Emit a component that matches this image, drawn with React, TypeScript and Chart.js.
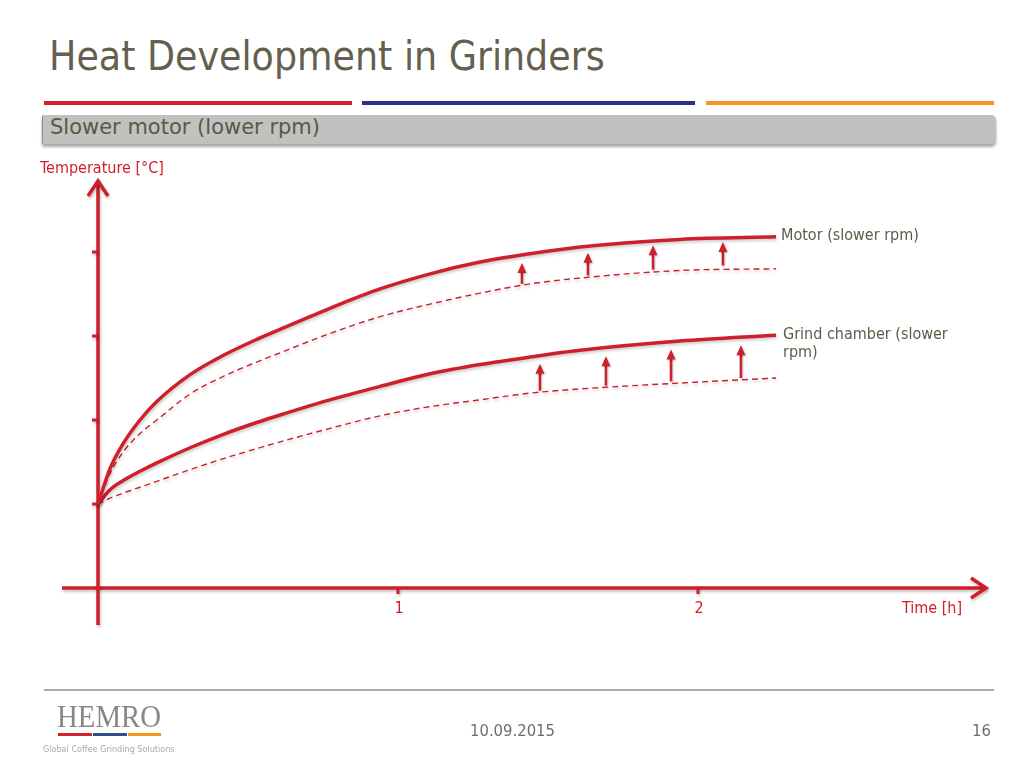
import { useEffect, useRef } from 'react';
import Chart from 'chart.js/auto';

// time in hours, shared by all four curves
const times = [0, 0.04, 0.084, 0.14, 0.196, 0.307, 0.418, 0.529, 0.607, 0.773, 0.94, 1.107, 1.273, 1.44, 1.607, 1.94, 2.26];
const motorSlow = [1.0, 1.42, 1.72, 2.0, 2.22, 2.54, 2.77, 2.96, 3.08, 3.33, 3.56, 3.74, 3.88, 3.98, 4.06, 4.15, 4.18];
const motorFast = [1.0, 1.36, 1.62, 1.84, 2.0, 2.31, 2.52, 2.69, 2.8, 3.03, 3.23, 3.38, 3.51, 3.62, 3.69, 3.78, 3.8];
const chamberSlow = [1.0, 1.17, 1.28, 1.39, 1.49, 1.67, 1.83, 1.97, 2.06, 2.24, 2.4, 2.55, 2.66, 2.75, 2.83, 2.94, 3.01];
const chamberFast = [1.0, 1.07, 1.13, 1.2, 1.27, 1.41, 1.54, 1.66, 1.74, 1.9, 2.05, 2.16, 2.24, 2.32, 2.37, 2.44, 2.5];

// small arrows showing the rise from dashed to solid curve
const motorArrowTimes = [1.413, 1.633, 1.85, 2.083];
const motorArrowFrom = [3.62, 3.72, 3.79, 3.84];
const motorArrowTo = [3.87, 3.99, 4.08, 4.12];
const chamberArrowTimes = [1.473, 1.693, 1.91, 2.143];
const chamberArrowFrom = [2.35, 2.41, 2.46, 2.5];
const chamberArrowTo = [2.67, 2.76, 2.84, 2.89];

const xTicks = [1, 2];
const yTicks = [1, 2, 3, 4];
const xRange = [-0.12, 2.96];
const yRange = [-0.44, 4.845];

const RED = '#cf1f2a';
const TEXT = '#5e5a4a';
const COND = '"DejaVu Sans Condensed", "Liberation Sans Narrow", "DejaVu Sans", sans-serif';
const SANS = '"DejaVu Sans", sans-serif';

const toPoints = (vals: number[]) => vals.map((v, i) => ({ x: times[i], y: v }));

const slidePlugin = {
  id: 'slideAxes',
  beforeDatasetsDraw(chart: any) {
    const { ctx, scales } = chart;
    const x = scales.x;
    const y = scales.y;
    const x0 = x.getPixelForValue(0);
    const y0 = y.getPixelForValue(0);
    ctx.save();
    ctx.shadowColor = 'rgba(0,0,0,0.25)';
    ctx.shadowBlur = 3;
    ctx.shadowOffsetX = 1;
    ctx.shadowOffsetY = 2;
    ctx.strokeStyle = RED;
    ctx.lineWidth = 3.5;
    ctx.lineJoin = 'miter';
    // x axis
    ctx.beginPath();
    ctx.moveTo(x.left, y0);
    ctx.lineTo(x.right, y0);
    ctx.stroke();
    ctx.beginPath();
    ctx.moveTo(x.right - 15, y0 - 10);
    ctx.lineTo(x.right, y0);
    ctx.lineTo(x.right - 15, y0 + 10);
    ctx.stroke();
    // y axis
    ctx.beginPath();
    ctx.moveTo(x0, y.bottom);
    ctx.lineTo(x0, y.top);
    ctx.stroke();
    ctx.beginPath();
    ctx.moveTo(x0 - 10, y.top + 15);
    ctx.lineTo(x0, y.top);
    ctx.lineTo(x0 + 10, y.top + 15);
    ctx.stroke();
    // ticks
    ctx.lineWidth = 3;
    yTicks.forEach((t) => {
      const py = y.getPixelForValue(t);
      ctx.beginPath();
      ctx.moveTo(x0 - 6, py);
      ctx.lineTo(x0, py);
      ctx.stroke();
    });
    xTicks.forEach((t) => {
      const px = x.getPixelForValue(t);
      ctx.beginPath();
      ctx.moveTo(px, y0);
      ctx.lineTo(px, y0 + 6);
      ctx.stroke();
    });
    ctx.shadowColor = 'transparent';
    ctx.fillStyle = RED;
    ctx.font = `16px ${COND}`;
    ctx.textBaseline = 'alphabetic';
    ctx.textAlign = 'center';
    xTicks.forEach((t) => ctx.fillText(String(t), x.getPixelForValue(t) + 1, y0 + 25));
    ctx.textAlign = 'right';
    ctx.fillText('Time [h]', x.right - 24, y0 + 25);
    ctx.textAlign = 'left';
    ctx.fillText('Temperature [°C]', x0 - 58, y.top - 8);
    ctx.restore();
  },
  // soft shadow under the curves, as on the slide
  beforeDatasetDraw(chart: any) {
    const { ctx } = chart;
    ctx.save();
    ctx.shadowColor = 'rgba(0,0,0,0.2)';
    ctx.shadowBlur = 3;
    ctx.shadowOffsetX = 1;
    ctx.shadowOffsetY = 2;
  },
  afterDatasetDraw(chart: any) {
    chart.ctx.restore();
  },
  afterDatasetsDraw(chart: any) {
    const { ctx, scales } = chart;
    const x = scales.x;
    const y = scales.y;
    const drawArrows = (ts: number[], from: number[], to: number[]) => {
      ts.forEach((t, i) => {
        const px = x.getPixelForValue(t);
        const pb = y.getPixelForValue(from[i]);
        const pt = y.getPixelForValue(to[i]);
        ctx.beginPath();
        ctx.moveTo(px, pb);
        ctx.lineTo(px, pt + 8);
        ctx.stroke();
        ctx.beginPath();
        ctx.moveTo(px, pt);
        ctx.lineTo(px - 4.5, pt + 10);
        ctx.lineTo(px + 4.5, pt + 10);
        ctx.closePath();
        ctx.fill();
      });
    };
    ctx.save();
    ctx.shadowColor = 'rgba(0,0,0,0.25)';
    ctx.shadowBlur = 2;
    ctx.shadowOffsetX = 1;
    ctx.shadowOffsetY = 1;
    ctx.strokeStyle = RED;
    ctx.fillStyle = RED;
    ctx.lineWidth = 2.5;
    drawArrows(motorArrowTimes, motorArrowFrom, motorArrowTo);
    drawArrows(chamberArrowTimes, chamberArrowFrom, chamberArrowTo);
    ctx.shadowColor = 'transparent';
    // curve labels at the end of the solid lines
    const last = times.length - 1;
    const lx = x.getPixelForValue(times[last]) + 5;
    ctx.fillStyle = TEXT;
    ctx.font = `16px ${COND}`;
    ctx.textAlign = 'left';
    ctx.textBaseline = 'alphabetic';
    ctx.fillText('Motor (slower rpm)', lx, y.getPixelForValue(motorSlow[last]) + 3);
    const cy = y.getPixelForValue(chamberSlow[last]);
    ctx.fillText('Grind chamber (slower', lx + 2, cy + 4);
    ctx.fillText('rpm)', lx + 2, cy + 22);
    ctx.restore();
  },
};

function HeatChart() {
  const canvasRef = useRef<HTMLCanvasElement>(null);

  useEffect(() => {
    if (!canvasRef.current) return;
    const solid = { borderColor: RED, borderWidth: 3.5, pointRadius: 0, cubicInterpolationMode: 'monotone' as const };
    const dashed = { borderColor: RED, borderWidth: 1.4, borderDash: [6, 4], pointRadius: 0, cubicInterpolationMode: 'monotone' as const };
    const chart = new Chart(canvasRef.current, {
      type: 'line',
      data: {
        datasets: [
          { label: 'Motor (slower rpm)', data: toPoints(motorSlow), ...solid },
          { label: 'Motor', data: toPoints(motorFast), ...dashed },
          { label: 'Grind chamber (slower rpm)', data: toPoints(chamberSlow), ...solid },
          { label: 'Grind chamber', data: toPoints(chamberFast), ...dashed },
        ],
      },
      options: {
        animation: false,
        responsive: false,
        layout: { padding: { left: 62, right: 38, top: 181, bottom: 136 } },
        plugins: { legend: { display: false }, tooltip: { enabled: false } },
        scales: {
          x: { type: 'linear', min: xRange[0], max: xRange[1], display: false },
          y: { type: 'linear', min: yRange[0], max: yRange[1], display: false },
        },
      },
      plugins: [slidePlugin],
    });
    return () => chart.destroy();
  }, []);

  return (
    <canvas
      ref={canvasRef}
      width={1024}
      height={761}
      style={{ position: 'absolute', left: 0, top: 0, width: 1024, height: 761 }}
    />
  );
}

export default function App() {
  return (
    <div
      style={{
        position: 'absolute',
        left: 0,
        top: 0,
        width: 1024,
        height: 761,
        background: '#fff',
        fontFamily: COND,
        overflow: 'hidden',
      }}
    >
      <div
        style={{
          position: 'absolute',
          left: 49,
          top: 33,
          fontSize: 40.5,
          lineHeight: 1.164,
          color: '#655f4f',
          whiteSpace: 'nowrap',
        }}
      >
        Heat Development in Grinders
      </div>
      <div style={{ position: 'absolute', left: 44, top: 101, width: 308, height: 4, background: '#d2232a' }} />
      <div style={{ position: 'absolute', left: 362, top: 101, width: 333, height: 4, background: '#27308a' }} />
      <div style={{ position: 'absolute', left: 706, top: 101, width: 288, height: 4, background: '#f7941d' }} />
      <div
        style={{
          position: 'absolute',
          left: 42,
          top: 115,
          width: 953,
          height: 29,
          background: '#c1c1c0',
          borderRadius: '2px 5px 5px 2px',
          boxShadow: '0 3px 3px rgba(0,0,0,0.35)',
          borderLeft: '1px solid #8a8a8a',
        }}
      >
        <div
          style={{
            position: 'absolute',
            left: 7,
            top: 0,
            fontFamily: SANS,
            fontSize: 21,
            lineHeight: 1.164,
            color: '#5b5848',
            whiteSpace: 'nowrap',
          }}
        >
          Slower motor (lower rpm)
        </div>
      </div>
      <HeatChart />
      <div style={{ position: 'absolute', left: 44, top: 689, width: 950, height: 2, background: '#a9a9a9' }} />
      <div
        style={{
          position: 'absolute',
          left: 57,
          top: 700,
          fontFamily: '"Liberation Serif", serif',
          fontSize: 32,
          lineHeight: '32px',
          color: '#8c8782',
          transform: 'scaleX(0.9)',
          transformOrigin: 'left top',
        }}
      >
        HEMRO
      </div>
      <div style={{ position: 'absolute', left: 58, top: 733, width: 34, height: 3, background: '#d2232a' }} />
      <div style={{ position: 'absolute', left: 93, top: 733, width: 34, height: 3, background: '#27508a' }} />
      <div style={{ position: 'absolute', left: 128, top: 733, width: 33, height: 3, background: '#f7941d' }} />
      <div style={{ position: 'absolute', left: 43, top: 744, fontSize: 9, color: '#aaaaaa', whiteSpace: 'nowrap' }}>
        Global Coffee Grinding Solutions
      </div>
      <div style={{ position: 'absolute', left: 470, top: 721, fontSize: 16.5, color: '#6d6d6d' }}>10.09.2015</div>
      <div style={{ position: 'absolute', left: 972, top: 721, fontSize: 16.5, color: '#6d6d6d' }}>16</div>
    </div>
  );
}
